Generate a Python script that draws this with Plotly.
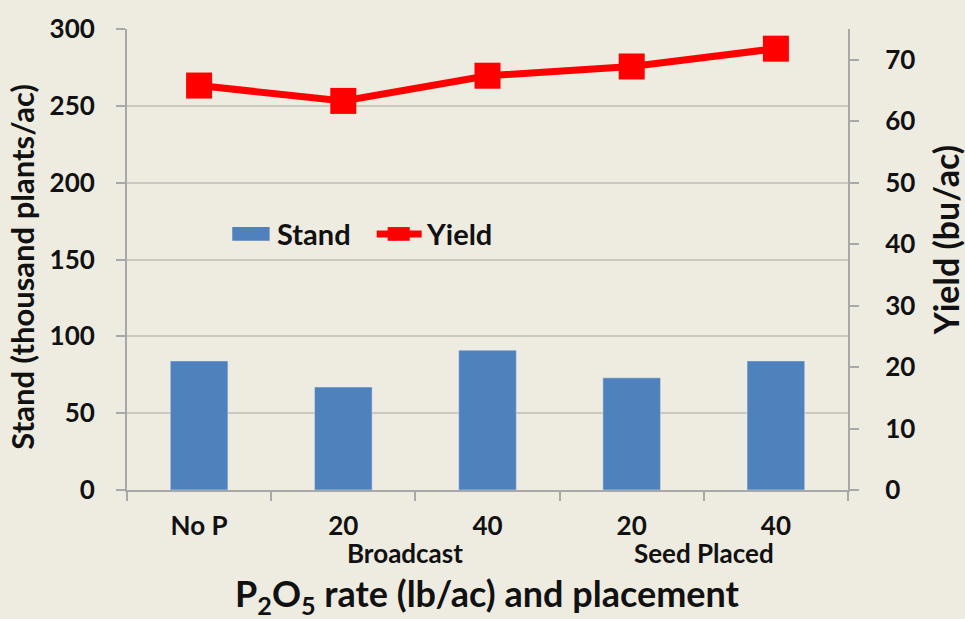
import plotly.graph_objects as go

categories = ["No P", "20", "40", "20 ", "40 "]
tick_labels = ["No P", "20", "40", "20", "40"]
group_labels = ["Broadcast", "Seed Placed"]
stand = [84, 67, 91, 73, 84]
yield_bu = [65.8, 63.3, 67.4, 68.9, 71.8]

BG = "#EEEBE0"
FONT = "Lato"
TXT = "#111111"
AX = "#A8A8A8"

fig = go.Figure()
fig.add_trace(go.Bar(x=categories, y=stand, name="Stand", marker_color="#4F81BD",
                     width=0.4, yaxis="y", showlegend=False))
fig.add_trace(go.Scatter(x=categories, y=yield_bu, name="Yield", yaxis="y2",
                         mode="lines+markers", showlegend=False,
                         line=dict(color="#FF0000", width=7),
                         marker=dict(symbol="square", size=26, color="#FF0000")))

fig.update_layout(
    width=965, height=619,
    paper_bgcolor=BG, plot_bgcolor=BG,
    margin=dict(l=127, r=117, t=21, b=129),
    font=dict(family=FONT, color=TXT, size=26),
    showlegend=False,
    xaxis=dict(tickvals=categories, ticktext=[f"<b>{t}</b>" for t in tick_labels],
               showline=True, linecolor=AX, linewidth=2,
               ticks="outside", tickson="boundaries", ticklen=9, tickcolor=AX, tickwidth=2,
               tickfont=dict(size=26, family=FONT), ticklabelstandoff=12,
               showgrid=False),
    yaxis=dict(range=[0, 300], dtick=50, showline=True, linecolor=AX, linewidth=2,
               ticks="outside", ticklen=9, tickcolor=AX, tickwidth=2,
               showgrid=True, gridcolor="#CAC8C0", gridwidth=2, zeroline=False,
               tickfont=dict(size=26, family=FONT, weight="bold"), ticklabelstandoff=16),
    yaxis2=dict(range=[0, 75], tickvals=[0, 10, 20, 30, 40, 50, 60, 70], overlaying="y",
                side="right", showline=True, linecolor=AX, linewidth=2,
                ticks="outside", ticklen=9, tickcolor=AX, tickwidth=2, showgrid=False,
                zeroline=False,
                tickfont=dict(size=26, family=FONT, weight="bold"), ticklabelstandoff=21),
)

# group labels under the category pairs (midpoints between the two categories)
fig.add_annotation(text=f"<b>{group_labels[0]}</b>", x=1.5, xref="x", xshift=-10,
                   y=-0.136, yref="paper", showarrow=False, font=dict(size=26),
                   yanchor="middle")
fig.add_annotation(text=f"<b>{group_labels[1]}</b>", x=3.5, xref="x", xshift=0,
                   y=-0.136, yref="paper", showarrow=False, font=dict(size=26),
                   yanchor="middle")

# axis titles
fig.add_annotation(text="<b>P<sub>2</sub>O<sub>5</sub> rate (lb/ac) and placement</b>",
                   x=0.5003, xref="paper", y=-0.2298, yref="paper", showarrow=False,
                   font=dict(size=36), yanchor="middle")
fig.add_annotation(text="<b>Stand (thousand plants/ac)</b>", textangle=-90,
                   x=-0.145, xref="paper", y=0.518, yref="paper", yshift=-15,
                   showarrow=False, font=dict(size=31), xanchor="center", yanchor="middle")
fig.add_annotation(text="<b>Yield (bu/ac)</b>", textangle=-90,
                   x=1.1346, xref="paper", y=0.5416, yref="paper", showarrow=False,
                   font=dict(size=34), xanchor="center", yanchor="middle")

# legend drawn by hand
fig.add_shape(type="rect", xref="paper", yref="paper", x0=0.146, x1=0.1978,
              y0=0.5406, y1=0.5704, fillcolor="#4F81BD", line=dict(width=0))
fig.add_annotation(text="<b>Stand</b>", x=0.2047, xref="paper", y=0.5555, yref="paper",
                   showarrow=False, xanchor="left", yanchor="middle", font=dict(size=29))
fig.add_shape(type="line", xref="paper", yref="paper", x0=0.3463, x1=0.4087,
              y0=0.5555, y1=0.5555, line=dict(color="#FF0000", width=7))
fig.add_shape(type="rect", xref="paper", yref="paper", x0=0.3615, x1=0.3921,
              y0=0.5406, y1=0.5704, fillcolor="#FF0000", line=dict(width=0))
fig.add_annotation(text="<b>Yield</b>", x=0.4115, xref="paper", y=0.5555, yref="paper",
                   showarrow=False, xanchor="left", yanchor="middle", font=dict(size=29))

fig.write_html("out.html", config={"displayModeBar": False},
               post_script="document.body.style.margin='0';document.body.style.background='%s';" % BG)
